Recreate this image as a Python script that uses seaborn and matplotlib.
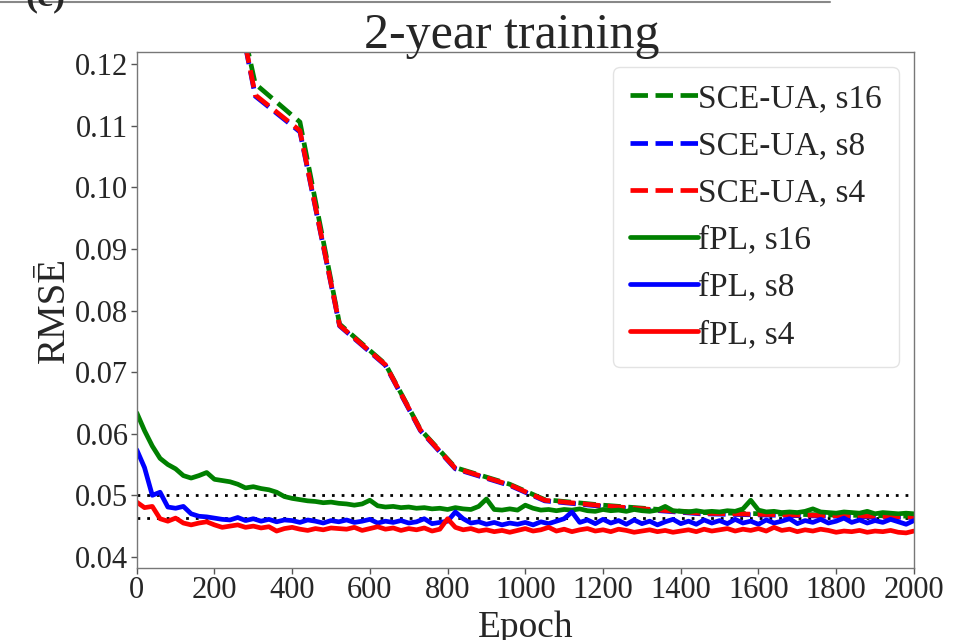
import numpy as np
import pandas as pd
import matplotlib
matplotlib.use("Agg")
import matplotlib.pyplot as plt
from matplotlib.lines import Line2D
import seaborn as sns

# ---------------- data ----------------
epochs = list(range(0, 2001, 20))

fpl_s16 = [0.0634, 0.0605, 0.0580, 0.0560, 0.0550, 0.0543, 0.0532, 0.0528, 0.0532, 0.0537,
           0.0526, 0.0524, 0.0522, 0.0518, 0.0512, 0.0514, 0.0511, 0.0509, 0.0505, 0.0498,
           0.0495, 0.0493, 0.0491, 0.0490, 0.0488, 0.0489, 0.0487, 0.0486, 0.0484, 0.0486,
           0.0492, 0.0483, 0.0481, 0.0482, 0.0480, 0.0481, 0.0479, 0.0480, 0.0478, 0.0479,
           0.0477, 0.0480, 0.0478, 0.0477, 0.0482, 0.0494, 0.0477, 0.0476, 0.0478, 0.0476,
           0.0484, 0.0479, 0.0476, 0.0477, 0.0475, 0.0477, 0.0476, 0.0478, 0.0475, 0.0474,
           0.0477, 0.0475, 0.0476, 0.0474, 0.0477, 0.0475, 0.0474, 0.0476, 0.0482, 0.0475,
           0.0474, 0.0473, 0.0475, 0.0473, 0.0474, 0.0473, 0.0475, 0.0474, 0.0478, 0.0492,
           0.0476, 0.0473, 0.0474, 0.0472, 0.0473, 0.0472, 0.0474, 0.0478, 0.0473, 0.0472,
           0.0471, 0.0473, 0.0472, 0.0471, 0.0474, 0.0470, 0.0472, 0.0471, 0.0470, 0.0471,
           0.0470]

fpl_s8 = [0.0574, 0.0545, 0.0500, 0.0505, 0.0481, 0.0479, 0.0482, 0.0470, 0.0466, 0.0465,
          0.0463, 0.0461, 0.0460, 0.0464, 0.0459, 0.0462, 0.0458, 0.0461, 0.0457, 0.0460,
          0.0459, 0.0456, 0.0460, 0.0458, 0.0455, 0.0459, 0.0457, 0.0460, 0.0456, 0.0458,
          0.0461, 0.0455, 0.0458, 0.0456, 0.0459, 0.0455, 0.0457, 0.0462, 0.0454, 0.0456,
          0.0458, 0.0473, 0.0462, 0.0455, 0.0457, 0.0453, 0.0456, 0.0452, 0.0455, 0.0453,
          0.0456, 0.0452, 0.0457, 0.0454, 0.0458, 0.0462, 0.0473, 0.0456, 0.0460, 0.0454,
          0.0461, 0.0455, 0.0459, 0.0453, 0.0460, 0.0454, 0.0458, 0.0452, 0.0457, 0.0461,
          0.0454, 0.0458, 0.0453, 0.0460, 0.0455, 0.0459, 0.0454, 0.0461, 0.0455, 0.0458,
          0.0453, 0.0460, 0.0455, 0.0458, 0.0462, 0.0454, 0.0459, 0.0456, 0.0461, 0.0455,
          0.0458, 0.0463, 0.0456, 0.0460, 0.0455, 0.0459, 0.0456, 0.0461, 0.0457, 0.0453,
          0.0459]

fpl_s4 = [0.0489, 0.0480, 0.0482, 0.0462, 0.0458, 0.0463, 0.0455, 0.0452, 0.0455, 0.0457,
          0.0452, 0.0448, 0.0450, 0.0452, 0.0448, 0.0450, 0.0447, 0.0449, 0.0442, 0.0446,
          0.0448, 0.0445, 0.0443, 0.0446, 0.0444, 0.0447, 0.0446, 0.0445, 0.0448, 0.0443,
          0.0446, 0.0449, 0.0445, 0.0447, 0.0443, 0.0446, 0.0444, 0.0447, 0.0442, 0.0445,
          0.0462, 0.0448, 0.0444, 0.0446, 0.0442, 0.0444, 0.0441, 0.0443, 0.0440, 0.0443,
          0.0446, 0.0442, 0.0444, 0.0448, 0.0442, 0.0445, 0.0441, 0.0444, 0.0446, 0.0442,
          0.0444, 0.0441, 0.0445, 0.0443, 0.0440, 0.0442, 0.0444, 0.0441, 0.0443, 0.0440,
          0.0442, 0.0444, 0.0441, 0.0445, 0.0442, 0.0444, 0.0446, 0.0442, 0.0445, 0.0443,
          0.0446, 0.0442, 0.0448, 0.0443, 0.0445, 0.0441, 0.0444, 0.0442, 0.0445, 0.0443,
          0.0440, 0.0442, 0.0441, 0.0443, 0.0440, 0.0442, 0.0441, 0.0443, 0.0440, 0.0439,
          0.0442]

sce_epochs = [280, 305, 420, 522, 640, 730, 820, 960, 1050, 1200, 1450, 1700, 2000]
sce_s16 = [0.1240, 0.1168, 0.1106, 0.0778, 0.0713, 0.0607, 0.0545, 0.0518, 0.0493, 0.0484, 0.0472, 0.0469, 0.0466]
sce_s8 = [0.1228, 0.1148, 0.1090, 0.0775, 0.0711, 0.0605, 0.0543, 0.0516, 0.0491, 0.0482, 0.0470, 0.0467, 0.0464]
sce_s4 = [0.1230, 0.1150, 0.1092, 0.0776, 0.0712, 0.0606, 0.0544, 0.0517, 0.0492, 0.0483, 0.0471, 0.0468, 0.0465]

ref_levels = [0.0500, 0.0463]

x_ticks = list(range(0, 2001, 200))
y_ticks = [0.04, 0.05, 0.06, 0.07, 0.08, 0.09, 0.10, 0.11, 0.12]

# ---------------- plot ----------------
sns.set_style("white")
plt.rcParams['font.family'] = ['Liberation Serif', 'DejaVu Serif']

fig = plt.figure(figsize=(9.63, 6.40), dpi=100)
ax = fig.add_axes([0.142, 0.1125, 0.807, 0.8065])

series = [
    (sce_epochs, sce_s16, 'green', '--', 'SCE-UA, s16'),
    (sce_epochs, sce_s8, 'blue', '--', 'SCE-UA, s8'),
    (sce_epochs, sce_s4, 'red', '--', 'SCE-UA, s4'),
    (epochs, fpl_s16, 'green', '-', 'fPL, s16'),
    (epochs, fpl_s8, 'blue', '-', 'fPL, s8'),
    (epochs, fpl_s4, 'red', '-', 'fPL, s4'),
]
for xs, ys, c, ls, lab in series:
    df = pd.DataFrame({'Epoch': xs, 'RMSE': ys})
    sns.lineplot(data=df, x='Epoch', y='RMSE', ax=ax, color=c, linestyle=ls,
                 linewidth=3.4, label=lab)

for lv in ref_levels:
    ax.axhline(lv, color='black', linestyle=(0, (1, 2.5)), linewidth=2.0, zorder=1)

ax.set_xlim(0, 2000)
ax.set_ylim(0.0382, 0.1220)
ax.set_xticks(x_ticks)
ax.set_yticks(y_ticks)
ax.set_yticklabels([f'{v:.2f}' for v in y_ticks])
ax.tick_params(axis='both', labelsize=22, length=4, width=1, direction='out',
               color='#555555', pad=2, left=True, bottom=True)
for sp in ax.spines.values():
    sp.set_color('#777777')
    sp.set_linewidth(1.0)

ax.set_xlabel('Epoch', fontsize=27, labelpad=4)
ax.set_ylabel('RMSĒ', fontsize=28, labelpad=2)
ax.set_title('2-year training', fontsize=36, pad=3, x=0.483)

leg = ax.legend(loc='upper right', fontsize=24, handlelength=2.05, handletextpad=0.0,
                labelspacing=0.5, borderpad=0.5, frameon=True, fancybox=True,
                borderaxespad=0.45)
leg.get_frame().set_edgecolor('#dddddd')

fig.add_artist(Line2D([0.0, 0.862], [0.9965, 0.9965], transform=fig.transFigure,
                      color='#888888', linewidth=1.5))
fig.text(0.026, 0.992, '(c)', fontsize=26, fontweight='bold', va='baseline', ha='left')

fig.savefig('out.png', dpi=100)
